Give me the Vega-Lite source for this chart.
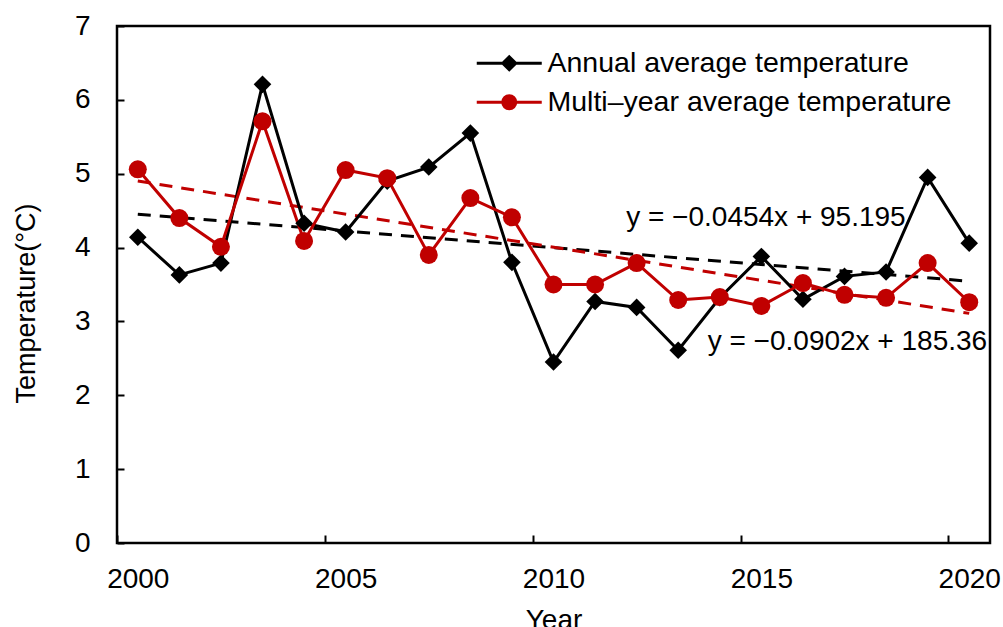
{
  "$schema": "https://vega.github.io/schema/vega-lite/v6.json",
  "width": 873,
  "height": 517,
  "autosize": {"type": "none"},
  "padding": {"left": 117, "top": 26, "right": 13, "bottom": 84},
  "background": "white",
  "config": {
    "font": "Liberation Sans",
    "view": {"stroke": "black", "strokeWidth": 2.5}
  },
  "datasets": {
    "temps": [
      {"year": 2000, "series": "Annual average temperature", "temp": 4.14},
      {"year": 2001, "series": "Annual average temperature", "temp": 3.63},
      {"year": 2002, "series": "Annual average temperature", "temp": 3.79},
      {"year": 2003, "series": "Annual average temperature", "temp": 6.21},
      {"year": 2004, "series": "Annual average temperature", "temp": 4.33},
      {"year": 2005, "series": "Annual average temperature", "temp": 4.21},
      {"year": 2006, "series": "Annual average temperature", "temp": 4.90},
      {"year": 2007, "series": "Annual average temperature", "temp": 5.09},
      {"year": 2008, "series": "Annual average temperature", "temp": 5.55},
      {"year": 2009, "series": "Annual average temperature", "temp": 3.80},
      {"year": 2010, "series": "Annual average temperature", "temp": 2.45},
      {"year": 2011, "series": "Annual average temperature", "temp": 3.27},
      {"year": 2012, "series": "Annual average temperature", "temp": 3.19},
      {"year": 2013, "series": "Annual average temperature", "temp": 2.61},
      {"year": 2014, "series": "Annual average temperature", "temp": 3.32},
      {"year": 2015, "series": "Annual average temperature", "temp": 3.88},
      {"year": 2016, "series": "Annual average temperature", "temp": 3.30},
      {"year": 2017, "series": "Annual average temperature", "temp": 3.61},
      {"year": 2018, "series": "Annual average temperature", "temp": 3.67},
      {"year": 2019, "series": "Annual average temperature", "temp": 4.95},
      {"year": 2020, "series": "Annual average temperature", "temp": 4.06},
      {"year": 2000, "series": "Multi\u2013year average temperature", "temp": 5.06},
      {"year": 2001, "series": "Multi\u2013year average temperature", "temp": 4.40},
      {"year": 2002, "series": "Multi\u2013year average temperature", "temp": 4.01},
      {"year": 2003, "series": "Multi\u2013year average temperature", "temp": 5.71},
      {"year": 2004, "series": "Multi\u2013year average temperature", "temp": 4.09},
      {"year": 2005, "series": "Multi\u2013year average temperature", "temp": 5.05},
      {"year": 2006, "series": "Multi\u2013year average temperature", "temp": 4.94},
      {"year": 2007, "series": "Multi\u2013year average temperature", "temp": 3.90},
      {"year": 2008, "series": "Multi\u2013year average temperature", "temp": 4.67},
      {"year": 2009, "series": "Multi\u2013year average temperature", "temp": 4.41},
      {"year": 2010, "series": "Multi\u2013year average temperature", "temp": 3.50},
      {"year": 2011, "series": "Multi\u2013year average temperature", "temp": 3.50},
      {"year": 2012, "series": "Multi\u2013year average temperature", "temp": 3.79},
      {"year": 2013, "series": "Multi\u2013year average temperature", "temp": 3.29},
      {"year": 2014, "series": "Multi\u2013year average temperature", "temp": 3.33},
      {"year": 2015, "series": "Multi\u2013year average temperature", "temp": 3.21},
      {"year": 2016, "series": "Multi\u2013year average temperature", "temp": 3.52},
      {"year": 2017, "series": "Multi\u2013year average temperature", "temp": 3.36},
      {"year": 2018, "series": "Multi\u2013year average temperature", "temp": 3.32},
      {"year": 2019, "series": "Multi\u2013year average temperature", "temp": 3.79},
      {"year": 2020, "series": "Multi\u2013year average temperature", "temp": 3.26}
    ],
    "notes": [
      {"year": 2015.11, "temp": 4.40, "label": "y = \u22120.0454x + 95.195"},
      {"year": 2017.07, "temp": 2.72, "label": "y = \u22120.0902x + 185.36"}
    ]
  },
  "layer": [
    {
      "data": {"name": "temps"},
      "transform": [{"regression": "temp", "on": "year", "groupby": ["series"]}],
      "mark": {"type": "line", "strokeWidth": 3, "strokeDash": [13, 9]},
      "encoding": {
        "x": {"field": "year", "type": "quantitative"},
        "y": {"field": "temp", "type": "quantitative"},
        "color": {"field": "series", "type": "nominal"}
      }
    },
    {
      "data": {"name": "temps"},
      "mark": {"type": "line", "strokeWidth": 3},
      "encoding": {
        "x": {
          "field": "year",
          "type": "quantitative",
          "scale": {"domain": [1999.5, 2020.5], "nice": false, "zero": false},
          "axis": {
            "values": [2000, 2005, 2010, 2015, 2020],
            "format": "d",
            "domain": false,
            "grid": false,
            "tickSize": -8,
            "tickWidth": 2,
            "tickColor": "black",
            "tickOffset": -20.786,
            "labelOffset": 20.786,
            "labelPadding": 30,
            "labelFontSize": 28,
            "labelColor": "black",
            "labelFlush": false,
            "labelOverlap": false,
            "title": "Year",
            "titleFontSize": 28,
            "titleFontWeight": "normal",
            "titleColor": "black",
            "titleX": 436.5,
            "titleY": 85,
            "titleBaseline": "alphabetic",
            "titleAlign": "center"
          }
        },
        "y": {
          "field": "temp",
          "type": "quantitative",
          "scale": {"domain": [0, 7], "nice": false},
          "axis": {
            "values": [0, 1, 2, 3, 4, 5, 6, 7],
            "format": "d",
            "domain": false,
            "grid": false,
            "tickSize": -7,
            "tickWidth": 2,
            "tickColor": "black",
            "labelPadding": 34,
            "labelFontSize": 28,
            "labelColor": "black",
            "labelBaseline": "middle",
            "labelFlush": false,
            "labelOverlap": false,
            "title": "Temperature(\u00b0C)",
            "titleFontSize": 27,
            "titleFontWeight": "normal",
            "titleColor": "black",
            "titleAngle": -90,
            "titleX": -91,
            "titleY": 277,
            "titleAlign": "center",
            "titleBaseline": "middle"
          }
        },
        "color": {
          "field": "series",
          "type": "nominal",
          "scale": {
            "domain": ["Annual average temperature", "Multi\u2013year average temperature"],
            "range": ["black", "#C00000"]
          }
        }
      }
    },
    {
      "data": {"name": "temps"},
      "transform": [{"filter": "datum.series === 'Annual average temperature'"}],
      "mark": {"type": "point", "filled": true, "opacity": 1, "shape": "diamond", "size": 310},
      "encoding": {
        "x": {"field": "year", "type": "quantitative"},
        "y": {"field": "temp", "type": "quantitative"},
        "color": {"field": "series", "type": "nominal"}
      }
    },
    {
      "data": {"name": "temps"},
      "transform": [{"filter": "datum.series !== 'Annual average temperature'"}],
      "mark": {"type": "point", "filled": true, "opacity": 1, "shape": "circle", "size": 324},
      "encoding": {
        "x": {"field": "year", "type": "quantitative"},
        "y": {"field": "temp", "type": "quantitative"},
        "color": {"field": "series", "type": "nominal"}
      }
    },
    {
      "data": {"name": "temps"},
      "mark": {"type": "point", "filled": true, "opacity": 1},
      "encoding": {
        "x": {"field": "year", "type": "quantitative"},
        "y": {"field": "temp", "type": "quantitative"},
        "size": {"value": 0},
        "color": {
          "field": "series",
          "type": "nominal",
          "legend": {
            "title": null, "orient": "none", "legendX": 378, "legendY": 23, "padding": 0,
            "labelFontSize": 28.5, "labelColor": "black", "labelOffset": 24, "labelLimit": 600,
            "rowPadding": 10, "symbolSize": 169, "symbolStrokeWidth": 3, "symbolOpacity": 1
          }
        },
        "stroke": {
          "field": "series",
          "type": "nominal",
          "scale": {
            "domain": ["Annual average temperature", "Multi\u2013year average temperature"],
            "range": ["black", "#C00000"]
          },
          "legend": {
            "title": null, "orient": "none", "legendX": 378, "legendY": 23, "padding": 0,
            "labelFontSize": 28.5, "labelColor": "black", "labelOffset": 24, "labelLimit": 600,
            "rowPadding": 10, "symbolSize": 169, "symbolStrokeWidth": 3, "symbolOpacity": 1
          }
        },
        "shape": {
          "field": "series",
          "type": "nominal",
          "scale": {
            "domain": ["Annual average temperature", "Multi\u2013year average temperature"],
            "range": ["M-5,0H5M-1,0L0,-1L1,0L0,1Z", "M-5,0H5M-1,0A1,1,0,1,1,1,0A1,1,0,1,1,-1,0Z"]
          },
          "legend": {
            "title": null, "orient": "none", "legendX": 378, "legendY": 23, "padding": 0,
            "labelFontSize": 28.5, "labelColor": "black", "labelOffset": 24, "labelLimit": 600,
            "rowPadding": 10, "symbolSize": 169, "symbolStrokeWidth": 3, "symbolOpacity": 1
          }
        }
      }
    },
    {
      "data": {"name": "notes"},
      "mark": {"type": "text", "fontSize": 28, "color": "black", "align": "center", "baseline": "middle"},
      "encoding": {
        "x": {"field": "year", "type": "quantitative"},
        "y": {"field": "temp", "type": "quantitative"},
        "text": {"field": "label"}
      }
    }
  ]
}
